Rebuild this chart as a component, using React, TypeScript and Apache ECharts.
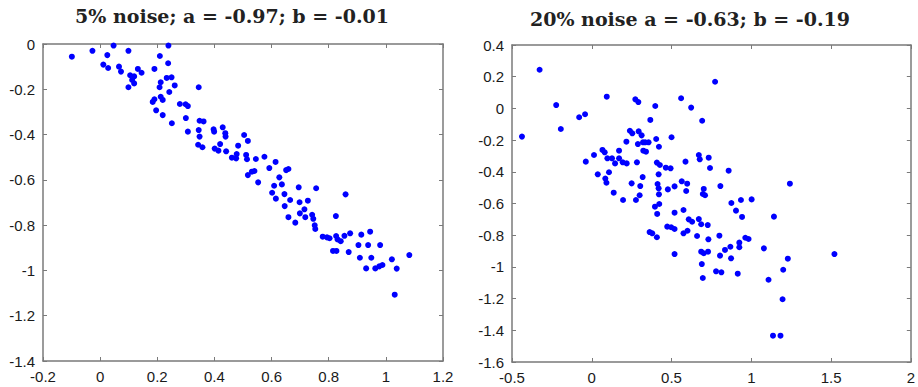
import React, { useEffect, useRef } from "react";
import * as echarts from "echarts";

const title5 = "5% noise; a = -0.97; b = -0.01";
const title20 = "20% noise a = -0.63; b = -0.19";

const noise5X = [
  -0.099, -0.027, 0.047, 0.099, 0.025, 0.011, 0.028, 0.066, 0.073, 0.105, 0.119, 0.112, 0.119, 0.099,
  0.132, 0.145, 0.19, 0.239, 0.209, 0.238, 0.233, 0.25, 0.212, 0.208, 0.261, 0.242, 0.212, 0.19, 0.184,
  0.219, 0.196, 0.219, 0.251, 0.279, 0.299, 0.307, 0.3, 0.307, 0.345, 0.348, 0.362, 0.345, 0.348, 0.343,
  0.358, 0.397, 0.399, 0.429, 0.438, 0.439, 0.42, 0.401, 0.414, 0.441, 0.483, 0.461, 0.476, 0.478,
  0.504, 0.517, 0.511, 0.514, 0.545, 0.575, 0.614, 0.592, 0.651, 0.659, 0.531, 0.54, 0.517, 0.553,
  0.627, 0.609, 0.636, 0.695, 0.756, 0.602, 0.615, 0.645, 0.665, 0.646, 0.698, 0.727, 0.715, 0.699,
  0.718, 0.742, 0.746, 0.659, 0.683, 0.751, 0.753,
  0.859, 0.825, 0.779, 0.794, 0.803, 0.826, 0.831, 0.842, 0.855, 0.875, 0.914, 0.945, 0.904, 0.938,
  0.98, 0.815, 0.827, 0.87, 0.909, 0.949, 1.021, 1.082, 0.931, 0.963, 0.977, 0.988, 1.038, 1.031,
];
const noise5Y = [
  -0.056, -0.03, -0.007, -0.03, -0.049, -0.091, -0.106, -0.1, -0.122, -0.138, -0.143, -0.159, -0.174, -0.191,
  -0.11, -0.127, -0.11, -0.007, -0.053, -0.085, -0.15, -0.147, -0.169, -0.191, -0.183, -0.212, -0.233, -0.244, -0.256,
  -0.247, -0.293, -0.314, -0.35, -0.265, -0.266, -0.274, -0.327, -0.387, -0.191, -0.339, -0.342, -0.38, -0.409, -0.445,
  -0.456, -0.377, -0.387, -0.368, -0.394, -0.409, -0.442, -0.462, -0.471, -0.474, -0.449, -0.502, -0.505, -0.486,
  -0.402, -0.428, -0.49, -0.509, -0.508, -0.498, -0.521, -0.548, -0.557, -0.552, -0.564, -0.561, -0.579, -0.611,
  -0.589, -0.626, -0.62, -0.633, -0.637, -0.657, -0.683, -0.663, -0.689, -0.716, -0.699, -0.692, -0.73, -0.748,
  -0.765, -0.754, -0.772, -0.765, -0.789, -0.801, -0.817,
  -0.664, -0.76, -0.851, -0.854, -0.858, -0.848, -0.863, -0.871, -0.847, -0.836, -0.842, -0.829, -0.888, -0.888,
  -0.888, -0.914, -0.914, -0.919, -0.944, -0.944, -0.951, -0.932, -0.991, -0.991, -0.982, -0.976, -0.992, -1.107,
];

const noise20X = [
  -0.4375, -0.327, -0.223, -0.194, -0.079, -0.042, 0.094, 0.273, 0.292, 0.398, 0.367, 0.56, 0.5, 0.239,
  0.254, 0.294, 0.3125, 0.217, 0.289, 0.321, 0.335, 0.356, 0.404, 0.421, 0.323, 0.34, 0.067, 0.081, 0.014,
  0.098, 0.127, 0.171, 0.146, 0.171, 0.194, 0.219, 0.283, -0.0375, 0.408, 0.427, 0.464, 0.494,
  0.773, 0.623,
  0.692, 0.5875, 0.671, 0.677, 0.733, 0.741, 0.858, 0.0375, 0.108, 0.085, 0.092, 0.1375, 0.196, 0.25,
  0.277, 0.304, 0.3, 0.319, 0.419, 0.4125, 0.419, 0.421, 0.477, 0.519, 0.564, 0.598, 0.592, 0.702, 0.696,
  0.71, 0.806, 0.875, 0.935, 1.002, 0.904, 0.942, 0.396, 0.423, 0.41, 0.519, 0.575, 0.608, 0.629, 0.671,
  0.686, 0.727, 0.473, 0.498, 0.519, 0.3625, 0.379, 0.408, 0.575, 0.6, 0.66, 0.731, 0.8, 0.869, 0.925,
  0.925, 0.9625, 0.983, 0.835, 0.686, 0.702, 0.729, 0.519, 0.804, 0.873,
  1.242, 1.142, 1.079, 1.229, 1.521, 1.2, 1.108, 0.69, 0.779, 0.8125, 0.915, 0.696, 1.196, 1.136, 1.183,
];
const noise20Y = [
  -0.178, 0.244, 0.021, -0.13, -0.056, -0.037, 0.074, 0.057, 0.04, 0.015, -0.073, 0.064, -0.182, -0.141,
  -0.157, -0.145, -0.17, -0.21, -0.225, -0.214, -0.214, -0.214, -0.193, -0.242, -0.267, -0.273, -0.262, -0.277, -0.294,
  -0.315, -0.315, -0.267, -0.347, -0.315, -0.34, -0.347, -0.34, -0.336, -0.342, -0.357, -0.374, -0.378,
  0.168, 0.005,
  -0.078, -0.336, -0.294, -0.321, -0.311, -0.376, -0.393, -0.416, -0.403, -0.443, -0.469, -0.532, -0.578, -0.473,
  -0.578, -0.49, -0.548, -0.433, -0.416, -0.477, -0.504, -0.542, -0.511, -0.492, -0.46, -0.475, -0.521, -0.508, -0.54,
  -0.548, -0.49, -0.597, -0.578, -0.574, -0.645, -0.685, -0.62, -0.603, -0.666, -0.658, -0.641, -0.7, -0.715, -0.698,
  -0.731, -0.736, -0.746, -0.75, -0.761, -0.78, -0.788, -0.813, -0.788, -0.772, -0.805, -0.826, -0.803, -0.873, -0.847,
  -0.876, -0.816, -0.824, -0.893, -0.904, -0.914, -0.904, -0.919, -0.929, -0.946,
  -0.475, -0.683, -0.883, -0.948, -0.919, -1.018, -1.081, -0.982, -1.028, -1.034, -1.043, -1.07, -1.204, -1.434, -1.434,
];

const axisColor = "#7a7a7a";
const labelStyle = { fontFamily: "Liberation Sans", fontSize: 15, color: "#1a1a1a" };
const fmt = (v: number) => String(Math.round(v * 10) / 10);

function makeX(grid: number, min: number, max: number, interval: number, position: string, showLabel: boolean) {
  return {
    gridIndex: grid,
    type: "value",
    min,
    max,
    interval,
    position,
    axisLine: { show: true, onZero: false, lineStyle: { color: axisColor, width: 1.5 } },
    axisTick: { show: true, inside: true, length: 4, lineStyle: { color: axisColor, width: 1 } },
    axisLabel: { show: showLabel, margin: 8, formatter: fmt, ...labelStyle },
    splitLine: { show: false },
  };
}
function makeY(grid: number, min: number, max: number, interval: number, position: string, showLabel: boolean) {
  return {
    gridIndex: grid,
    type: "value",
    min,
    max,
    interval,
    position,
    axisLine: { show: true, onZero: false, lineStyle: { color: axisColor, width: 1.5 } },
    axisTick: { show: true, inside: true, length: 4, lineStyle: { color: axisColor, width: 1 } },
    axisLabel: { show: showLabel, margin: 8, formatter: fmt, ...labelStyle },
    splitLine: { show: false },
  };
}

export default function App() {
  const ref = useRef<HTMLDivElement>(null);
  useEffect(() => {
    document.body.style.margin = "0";
    const chart = echarts.init(ref.current!, undefined, { renderer: "svg" });
    const d5 = noise5X.map((x, i) => [x, noise5Y[i]]);
    const d20 = noise20X.map((x, i) => [x, noise20Y[i]]);
    const titleFont = "bold 19px 'DejaVu Serif'";
    chart.setOption({
      animation: false,
      backgroundColor: "#ffffff",
      grid: [
        { left: 43, top: 44, width: 400, height: 317 },
        { left: 512, top: 45, width: 400, height: 317 },
      ],
      xAxis: [
        makeX(0, -0.2, 1.2, 0.2, "bottom", true),
        makeX(0, -0.2, 1.2, 0.2, "top", false),
        makeX(1, -0.5, 2, 0.5, "bottom", true),
        makeX(1, -0.5, 2, 0.5, "top", false),
      ],
      yAxis: [
        makeY(0, -1.4, 0, 0.2, "left", true),
        makeY(0, -1.4, 0, 0.2, "right", false),
        makeY(1, -1.6, 0.4, 0.2, "left", true),
        makeY(1, -1.6, 0.4, 0.2, "right", false),
      ],
      graphic: [
        {
          type: "text",
          x: 232,
          y: 16,
          style: { text: title5, font: titleFont, fill: "#222", textAlign: "center", align: "center", textVerticalAlign: "middle", verticalAlign: "middle" },
        },
        {
          type: "text",
          x: 690,
          y: 19,
          style: { text: title20, font: titleFont, fill: "#222", textAlign: "center", align: "center", textVerticalAlign: "middle", verticalAlign: "middle" },
        },
      ],
      series: [
        { type: "scatter", xAxisIndex: 0, yAxisIndex: 0, data: d5, symbolSize: 6, itemStyle: { color: "#0000ff", opacity: 1 } },
        { type: "scatter", xAxisIndex: 2, yAxisIndex: 2, data: d20, symbolSize: 6, itemStyle: { color: "#0000ff", opacity: 1 } },
      ],
    });
    return () => chart.dispose();
  }, []);
  return <div ref={ref} style={{ position: "fixed", left: 0, top: 0, width: 918, height: 387 }} />;
}
